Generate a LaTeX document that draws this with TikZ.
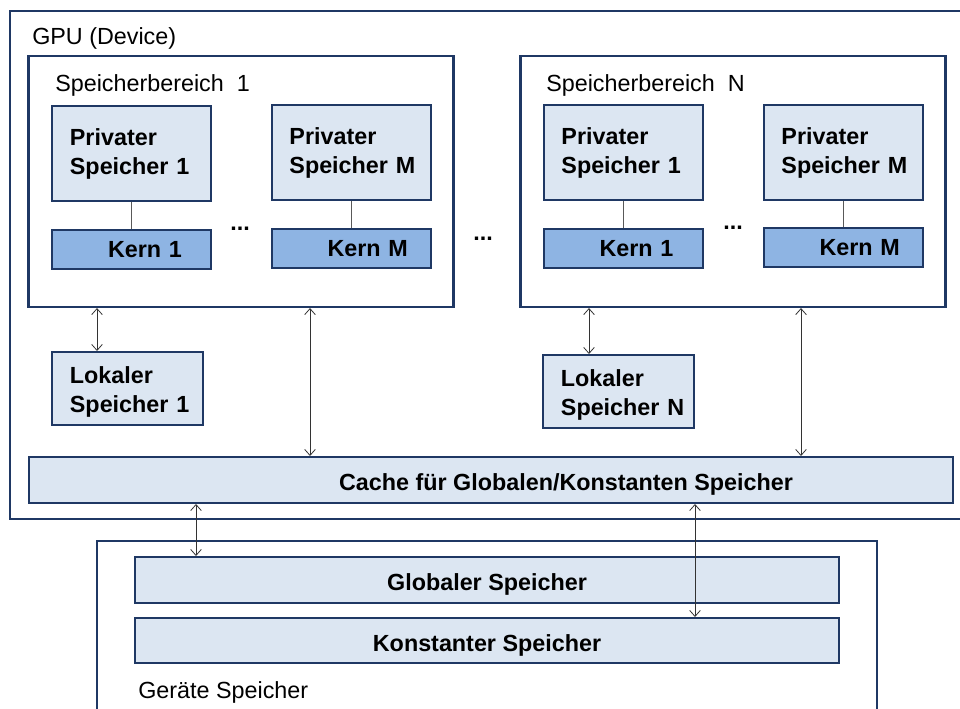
\documentclass[tikz,border=0pt]{standalone}
\usepackage{fontspec}
\setmainfont{Liberation Sans}
\usetikzlibrary{arrows.meta}
\definecolor{rahmen}{HTML}{1F3864}
\definecolor{hell}{HTML}{DCE6F2}
\definecolor{kernblau}{HTML}{8EB4E3}
\tikzset{
  bereich/.style={draw=rahmen, line width=1.6pt},
  speicher/.style={draw=rahmen, line width=1.5pt, fill=hell, font=\fontsize{17.5}{21.75}\selectfont\bfseries},
  privat/.style={speicher, minimum width=119.25pt, minimum height=71.25pt, text width=92.35pt, inner xsep=13.45pt, align=left},
  kern/.style={speicher, fill=kernblau, minimum width=119.25pt, minimum height=29.25pt, text width=119.25pt, inner xsep=0pt, align=left},
  lokal/.style={speicher, minimum width=113.25pt, minimum height=54.75pt, text width=86.35pt, inner xsep=13.45pt, align=left, text depth=19.5pt},
  balken/.style={speicher, minimum height=34.5pt, text height=16pt, text depth=0pt},
  titel/.style={font=\fontsize{17.5}{21}\selectfont, inner sep=0pt, anchor=base west},
  punkte/.style={font=\fontsize{17.5}{21}\selectfont\bfseries, inner sep=0pt, anchor=base},
  link/.style={draw=black!65, line width=0.7pt},
  biarrow/.style={black!80, line width=0.6pt, {Straight Barb[length=4.5pt,width=8pt]}-{Straight Barb[length=4.5pt,width=8pt]}}
}
\begin{document}
\begin{tikzpicture}[x=0.75pt, y=-0.75pt]
%\draw[help lines,black!20!white] (0,0) grid[step=50] (960,709);
\useasboundingbox (0,0) rectangle (960,709);

\draw[bereich] (10,11) rectangle (975,519);
\node[titel] (gpu) at (32,45) {GPU (Device)};

\node[bereich, minimum width=318.75pt, minimum height=188.25pt] (sb1) at (241,181.5) {};
\node[bereich, minimum width=318.75pt, minimum height=188.25pt] (sbN) at (733,181.5) {};
\node[titel] (sb1lbl) at (55,92) {Speicherbereich~~1};
\node[titel] (sbNlbl) at (546,92) {Speicherbereich~~N};

\node[privat] (p11) at (131.5,153.5) {Privater\\Speicher~1};
\node[privat] (p1M) at (351,153) {Privater\\Speicher~M};
\node[privat] (pN1) at (623,152.5) {Privater\\Speicher~1};
\node[privat] (pNM) at (843,152.5) {Privater\\Speicher~M};

\node[kern] (k11) at (131.5,249.5) {\hspace*{42pt}Kern 1};
\node[kern] (k1M) at (351,248.5) {\hspace*{42pt}Kern M};
\node[kern] (kN1) at (623,248.5) {\hspace*{42pt}Kern 1};
\node[kern] (kNM) at (843,247.5) {\hspace*{42pt}Kern M};

\foreach \n in {11,1M,N1,NM}
       \draw[link] (p\n) -- (k\n);

\node[punkte] (dots1) at (240,231) {...};
\node[punkte] (dots) at (483,241) {...};
\node[punkte] (dotsN) at (733,230) {...};

\node[lokal] (ls1) at (127.5,388.5) {Lokaler\\Speicher~1};
\node[lokal] (lsN) at (618.5,391.5) {Lokaler\\Speicher~N};

\node[balken, minimum width=693pt] (cache) at (491,480) {\hspace*{112.5pt}Cache für Globalen/Konstanten Speicher};

\draw[bereich] (97,725) -- (97,541) -- (877,541) -- (877,725);
\node[titel] (geraet) at (138,698) {Geräte Speicher};
\node[balken, minimum width=528pt] (glob) at (487,580) {Globaler Speicher};
\node[balken, minimum width=528pt, minimum height=33.75pt] (konst) at (487,640.5) {Konstanter Speicher};

\foreach \a/\b/\x in {sb1/ls1/97, sb1/cache/310, sbN/lsN/589, sbN/cache/801, cache/glob/196, cache/konst/695}
       \draw[biarrow] (\a.south -| \x,0) -- (\b.north -| \x,0);

\end{tikzpicture}
\end{document}
